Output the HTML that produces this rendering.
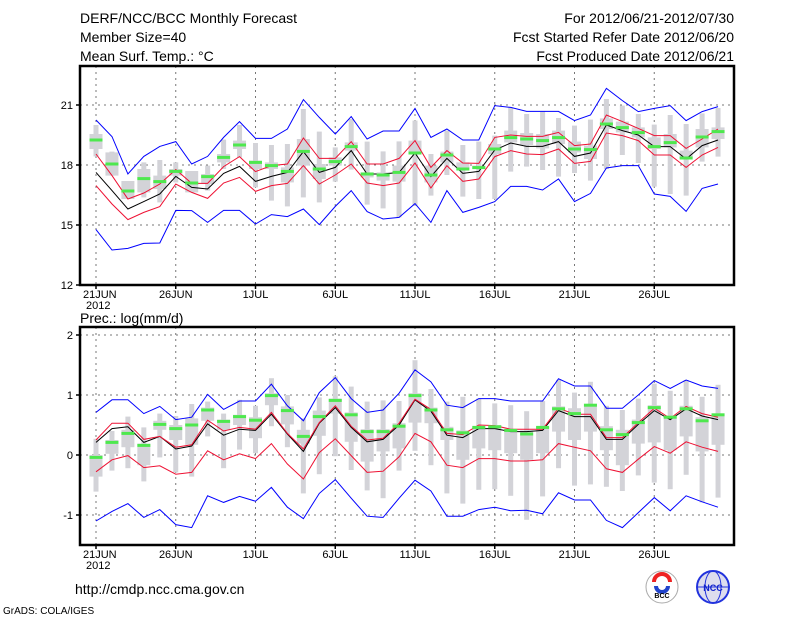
<!DOCTYPE html>
<html><head><meta charset="utf-8">
<style>
body{margin:0;background:#fff;}
svg{display:block;font-family:"Liberation Sans",sans-serif;}
</style></head>
<body>
<svg id="c" width="800" height="618">
<text x="80" y="23" font-size="14">DERF/NCC/BCC Monthly Forecast</text>
<text x="80" y="42" font-size="14">Member Size=40</text>
<text x="80" y="61" font-size="14">Mean Surf. Temp.: °C</text>
<text x="734" y="23" font-size="14" text-anchor="end">For 2012/06/21-2012/07/30</text>
<text x="734" y="42" font-size="14" text-anchor="end">Fcst Started Refer Date 2012/06/20</text>
<text x="734" y="61" font-size="14" text-anchor="end">Fcst Produced Date 2012/06/21</text>
<text x="80" y="323" font-size="14">Prec.: log(mm/d)</text>
<text x="75" y="594" font-size="14">http://cmdp.ncc.cma.gov.cn</text>
<text x="3" y="614" font-size="10">GrADS: COLA/IGES</text>
<g>
<circle cx="662" cy="587" r="16" fill="#fff" stroke="#aaa"/>
<path d="M654 582 a8 8 0 0 1 16 0" fill="none" stroke="#e22" stroke-width="4"/>
<path d="M656 586 a6 6 0 0 0 12 0" fill="none" stroke="#24c" stroke-width="4"/>
<text x="662" y="598" font-size="7" text-anchor="middle" font-weight="bold">BCC</text>
</g>
<g>
<circle cx="713" cy="587" r="16" fill="#dde" stroke="#23d" stroke-width="2"/>
<ellipse cx="713" cy="587" rx="8" ry="16" fill="none" stroke="#23d"/>
<line x1="697" y1="587" x2="729" y2="587" stroke="#23d"/>
<text x="713" y="591" font-size="9" text-anchor="middle" fill="#12c" font-weight="bold">NCC</text>
</g>
</svg>
<script>
// Temperature panel data (°C)
const days = ["21JUN","26JUN","1JUL","6JUL","11JUL","16JUL","21JUL","26JUL"];
const tTicks = [12,15,18,21];
const tMean = [17.63,16.72,15.8,16.17,16.55,17.43,16.88,16.8,17.58,17.93,17.18,17.43,17.63,18.67,17.63,17.88,18.72,17.55,17.55,17.63,18.6,17.42,18.33,17.58,17.68,18.75,19.1,18.93,18.93,19.17,18.43,18.6,20.0,19.72,19.5,18.92,18.92,18.3,18.97,19.25];
const tRedHi = [18.55,17.47,16.3,16.6,17.05,17.77,17.08,17.08,17.92,18.42,17.67,17.97,18.05,19.35,18.33,18.33,19.17,18.05,18.05,18.33,19.22,17.88,18.72,18.1,18.08,19.38,19.5,19.43,19.43,19.63,18.97,19.05,20.5,20.17,19.83,19.47,19.47,18.83,19.3,19.8];
const tRedLo = [16.97,16.05,15.27,15.63,15.92,17.05,16.63,16.33,17.1,17.38,16.68,16.97,17.08,17.97,17.05,17.5,18.05,17.1,16.97,17.1,18.1,16.85,17.97,17.18,17.3,18.42,18.72,18.55,18.52,18.8,18.08,18.18,19.6,19.47,19.22,18.5,18.5,17.88,18.5,18.88];
const tBlueHi = [20.25,19.42,17.55,18.43,18.93,19.17,18.05,18.43,19.38,20.17,19.33,19.33,19.8,21.27,20.38,19.55,20.42,19.3,19.7,19.7,20.83,19.38,19.8,19.25,19.25,20.97,20.88,20.68,20.68,20.68,20.22,20.5,21.83,21.22,20.67,20.83,20.97,20.22,20.67,20.92];
const tBlueLo = [14.77,13.75,13.83,14.08,14.1,15.73,15.72,15.13,15.73,15.73,15.05,15.52,15.42,15.8,15.02,15.93,16.72,15.67,15.3,15.38,16.07,15.13,16.72,15.63,15.88,16.17,16.93,16.93,16.75,17.3,16.17,16.58,17.85,17.97,17.97,16.55,16.43,15.68,16.83,17.05];
const tMax = [20,18.67,17.2,18.13,18.25,18.13,17.7,17.97,19.27,20.0,19.1,19.0,19.05,20.8,19.67,18.88,20.3,19.17,18.68,19.18,20.22,18.55,19.72,19.0,19.17,19.47,20.88,20.55,20.67,20.35,19.97,20.27,21.3,20.97,20.55,20.02,20.5,20.05,20.58,20.85];
const tMin = [18.43,17.47,16.3,16.38,16.13,17.13,16.63,16.72,17.8,18.38,16.88,16.22,15.93,16.38,16.13,17.17,17.77,16.02,15.83,15.38,15.97,16.47,17.5,16.42,16.3,16.3,17.67,17.92,17.75,17.42,17.6,17.22,17.8,18.5,18.1,16.92,16.55,16.47,18.17,18.42];
const tQ3 = [19.55,18.63,17.2,17.8,17.47,17.8,17.7,17.55,18.55,19.22,18.22,18.13,17.88,19.3,18.05,18.38,19.13,17.63,17.63,17.97,19.22,17.97,18.67,18.13,17.97,19.05,19.72,19.6,19.55,19.72,19.17,18.97,20.33,20.17,19.88,19.38,19.55,18.72,19.8,19.88];
const tQ1 = [18.8,17.47,16.3,16.63,16.8,17.47,16.63,17.05,18.13,18.8,17.8,17.8,17.13,17.97,17.3,17.97,18.72,17.38,17.22,17.17,18.55,17.13,18.13,17.8,17.8,18.55,19.13,19.0,18.83,19.05,18.63,18.3,19.8,19.63,19.38,18.8,18.88,18.33,18.88,19.3];
const tGreen = [19.25,18.05,16.7,17.32,17.17,17.68,17.1,17.42,18.38,19.0,18.13,17.97,17.68,18.68,17.8,18.17,18.92,17.55,17.5,17.63,18.6,17.5,18.5,17.8,17.87,18.8,19.37,19.3,19.22,19.37,18.8,18.77,20.05,19.87,19.62,18.92,19.12,18.35,19.4,19.67];
// Precipitation panel data (log mm/d)
const pTicks = [-1,0,1,2];
const pMean = [0.21,0.44,0.47,0.21,0.31,0.10,0.15,0.52,0.33,0.43,0.41,0.68,0.35,0.06,0.53,0.79,0.46,0.22,0.26,0.5,0.92,0.73,0.33,0.29,0.44,0.44,0.39,0.39,0.41,0.74,0.64,0.64,0.26,0.26,0.51,0.74,0.59,0.77,0.65,0.59];
const pRedHi = [0.25,0.53,0.53,0.26,0.31,0.13,0.17,0.58,0.4,0.46,0.43,0.71,0.36,0.1,0.54,0.82,0.48,0.25,0.28,0.53,0.93,0.76,0.36,0.34,0.5,0.49,0.43,0.43,0.43,0.78,0.68,0.68,0.29,0.29,0.54,0.78,0.61,0.81,0.69,0.63];
const pRedLo = [-0.28,-0.08,-0.01,-0.21,-0.18,-0.32,-0.29,0.07,-0.08,0.02,-0.06,0.19,-0.15,-0.4,0.04,0.27,-0.01,-0.29,-0.27,-0.03,0.36,0.22,-0.17,-0.21,-0.06,-0.06,-0.1,-0.1,-0.08,0.19,0.13,0.07,-0.23,-0.29,-0.07,0.14,0.03,0.22,0.13,0.06];
const pBlueHi = [0.71,0.92,0.92,0.69,0.81,0.59,0.63,1.01,0.76,0.9,0.9,1.18,0.82,0.57,1.04,1.29,0.94,0.71,0.75,1.03,1.42,1.22,0.83,0.79,0.94,0.94,0.9,0.9,0.9,1.27,1.15,1.15,0.78,0.78,1.0,1.24,1.11,1.25,1.15,1.11];
const pBlueLo = [-1.1,-0.94,-0.81,-1.04,-0.91,-1.16,-1.21,-0.68,-0.79,-0.69,-0.77,-0.54,-0.87,-1.06,-0.64,-0.41,-0.72,-1.02,-1.04,-0.72,-0.42,-0.6,-1.02,-1.02,-0.91,-0.87,-0.93,-0.92,-0.98,-0.63,-0.75,-0.75,-1.09,-1.21,-0.96,-0.71,-0.93,-0.68,-0.78,-0.87];
const pMax = [0.27,0.4,0.64,0.46,0.69,0.65,0.85,0.89,0.69,0.92,0.82,1.28,1.0,0.61,0.96,1.31,1.14,0.89,0.91,0.9,1.58,1.1,0.89,0.97,0.94,0.86,0.83,0.73,0.9,1.25,1.04,1.22,0.82,0.75,0.94,1.19,1.07,1.25,0.97,1.17];
const pMin = [-0.61,-0.26,-0.22,-0.44,-0.04,-0.29,-0.36,0.31,-0.22,0.09,0.03,0.48,0.13,-0.64,-0.32,-0.02,-0.25,-0.59,-0.72,-0.26,0.07,-0.17,-0.64,-0.81,-0.58,-0.57,-0.68,-1.08,-0.69,-0.22,-0.51,-0.49,-0.53,-0.6,-0.34,-0.46,-0.57,-0.33,-0.79,-0.71];
const pQ3 = [0,0.25,0.42,0.19,0.57,0.5,0.61,0.79,0.59,0.67,0.63,1.03,0.81,0.42,0.74,0.94,0.71,0.43,0.43,0.53,1.03,0.79,0.47,0.41,0.47,0.5,0.42,0.41,0.47,0.81,0.78,0.85,0.48,0.42,0.59,0.83,0.65,0.82,0.63,0.69];
const pQ1 = [-0.36,0.02,0.13,-0.17,0.42,0.25,0.17,0.57,0.42,0.5,0.28,0.83,0.51,0.19,0.32,0.69,0.22,-0.11,0.06,0.11,0.54,0.53,0.25,-0.08,0.11,0.08,0.03,-0.08,0.03,0.39,0.25,0.39,0.08,-0.17,0.19,0.21,0.08,0.31,0.06,0.17];
const pGreen = [-0.04,0.21,0.36,0.16,0.51,0.44,0.5,0.75,0.56,0.64,0.58,0.99,0.74,0.31,0.64,0.91,0.67,0.39,0.39,0.48,0.99,0.75,0.42,0.37,0.46,0.47,0.41,0.35,0.46,0.77,0.69,0.83,0.42,0.34,0.54,0.79,0.63,0.77,0.57,0.67];

const NS = "http://www.w3.org/2000/svg";
const svg = document.getElementById("c");
function X(i){ return 96 + 15.95*i; }
function mk(tag, attrs, parent){
  const e = document.createElementNS(NS, tag);
  for (const k in attrs) e.setAttribute(k, attrs[k]);
  (parent||svg).appendChild(e); return e;
}
function panel(name, top, bottom, Y, ticks, series, boxes){
  const g = mk("g", {});
  
  
  const L=80, R=734;
  // grid
  ticks.forEach(t=>{
    const y=Y(t);
    if (y>top+2 && y<bottom-2){
      const gl = mk("line",{x1:L,x2:R,y1:y,y2:y,stroke:"#777","stroke-dasharray":"2,4","stroke-width":1},g);
      
      
    }
    const tk = mk("line",{x1:L-4,x2:L,y1:y,y2:y,stroke:"#000","stroke-width":1.5},g);
    
    
    const lb = mk("text",{x:L-7,y:y+4,"font-size":11,"text-anchor":"end"},g);
    lb.textContent = t;
    
    
  });
  days.forEach((d,k)=>{
    const x=X(k*5);
    const gl = mk("line",{x1:x,x2:x,y1:top,y2:bottom,stroke:"#777","stroke-dasharray":"2,4","stroke-width":1},g);
    
    
    const tk = mk("line",{x1:x,x2:x,y1:bottom,y2:bottom+4,stroke:"#000","stroke-width":1.5},g);
    
    
    const lb = mk("text",{x:k==0?x-13:x,y:bottom+13,"font-size":11,"text-anchor":k==0?"start":"middle"},g);
    lb.textContent = d;
    
    
  });
  const yr = mk("text",{x:X(0)-10,y:bottom+24,"font-size":11},g);
  yr.textContent="2012";
  
  
  // boxes
  for (let i=0;i<boxes.max.length;i++){
    const x=X(i);
    const r1 = mk("rect",{x:x-2.5,y:Y(boxes.max[i]),width:5,height:Math.max(1,Y(boxes.min[i])-Y(boxes.max[i])),fill:"#d3d3d8"},g);
    
    
    const r2 = mk("rect",{x:x-6.5,y:Y(boxes.q3[i]),width:13,height:Math.max(1,Y(boxes.q1[i])-Y(boxes.q3[i])),fill:"#d3d3d8"},g);
    
    
  }
  series.forEach(s=>{
    const pts = s.v.map((v,i)=>X(i).toFixed(1)+","+Y(v).toFixed(1)).join(" ");
    const pl = mk("polyline",{points:pts,fill:"none",stroke:s.c,"stroke-width":1},g);
    
    
  });
  for (let i=0;i<boxes.g.length;i++){
    const gr = mk("rect",{x:X(i)-6.5,y:Y(boxes.g[i])-1.5,width:13,height:3,fill:"#4ee84e"},g);
    
    
  }
  const fr = mk("path",{d:`M${L} ${top} H${R} V${bottom} H${L} Z`,fill:"none",stroke:"#000","stroke-width":2.5},g);
  
  
}
panel("temperature-panel", 66, 285, v=>285-(v-12)*20, tTicks,
  [{v:tBlueHi,c:"#0000ff",n:"temp-max-line"},{v:tBlueLo,c:"#0000ff",n:"temp-min-line"},
   {v:tRedHi,c:"#ee1133",n:"temp-upper-spread"},{v:tRedLo,c:"#ee1133",n:"temp-lower-spread"},
   {v:tMean,c:"#000",n:"temp-mean-line"}],
  {max:tMax,min:tMin,q3:tQ3,q1:tQ1,g:tGreen});
panel("precipitation-panel", 327, 545, v=>455-v*60, pTicks,
  [{v:pBlueHi,c:"#0000ff",n:"prec-max-line"},{v:pBlueLo,c:"#0000ff",n:"prec-min-line"},
   {v:pRedLo,c:"#ee1133",n:"prec-lower-spread"},{v:pMean,c:"#000",n:"prec-mean-line"},
   {v:pRedHi,c:"#ee1133",n:"prec-upper-spread"}],
  {max:pMax,min:pMin,q3:pQ3,q1:pQ1,g:pGreen});
</script>
</body></html>
